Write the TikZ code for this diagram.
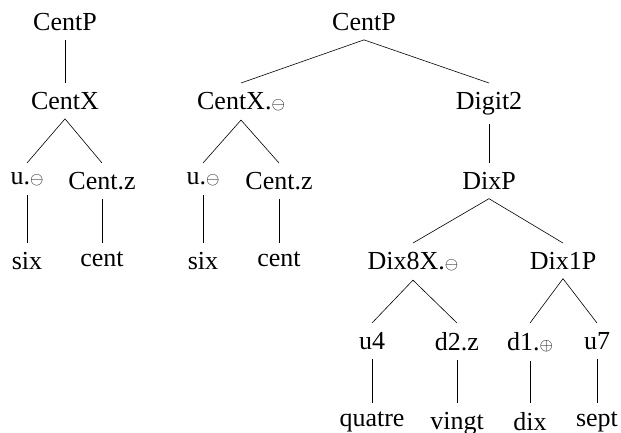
\documentclass[tikz,border=0pt]{standalone}
\usepackage{fontspec}
\setmainfont{Liberation Serif}
\newcommand{\om}{\ensuremath{\scriptstyle\ominus}}
\newcommand{\op}{\ensuremath{\scriptstyle\oplus}}
\begin{document}
\begin{tikzpicture}[x=1bp,y=-1bp,
  tn/.style={anchor=north,inner sep=9bp,font=\fontsize{26bp}{30bp}\selectfont},
  edge/.style={draw=black,line width=0.6bp}]
\useasboundingbox (0,0) rectangle (621,432);
% left tree
\node[tn] (a1) at (65,4) {CentP};
\node[tn] (a2) at (65,83) {CentX};
\node[tn] (a3) at (27,163) {u.\om};
\node[tn] (a4) at (102,163) {Cent.z};
\node[tn] (a5) at (27,243) {six};
\node[tn] (a6) at (102,243) {cent};
\draw[edge] (a1.south) -- (a2.north);
\draw[edge] (a2.south) -- (a3.north);
\draw[edge] (a2.south) -- (a4.north);
\draw[edge] (a3.south) -- (a5.north);
\draw[edge] (a4.south) -- (a6.north);
% right tree
\node[tn] (b1) at (364,4) {CentP};
\node[tn] (b2) at (241,83) {CentX.\om};
\node[tn] (b3) at (489,83) {Digit2};
\node[tn] (b4) at (203,163) {u.\om};
\node[tn] (b5) at (279,163) {Cent.z};
\node[tn] (b6) at (203,243) {six};
\node[tn] (b7) at (279,243) {cent};
\node[tn] (b8) at (489,163) {DixP};
\node[tn] (b9) at (413,243) {Dix8X.\om};
\node[tn] (b10) at (563,243) {Dix1P};
\node[tn] (b11) at (372,323) {u4};
\node[tn] (b12) at (457,323) {d2.z};
\node[tn] (b13) at (530,323) {d1.\op};
\node[tn] (b14) at (597,323) {u7};
\node[tn] (b15) at (372,403) {quatre};
\node[tn] (b16) at (457,403) {vingt};
\node[tn] (b17) at (530,403) {dix};
\node[tn] (b18) at (597,403) {sept};
\draw[edge] (b1.south) -- (b2.north);
\draw[edge] (b1.south) -- (b3.north);
\draw[edge] (b2.south) -- (b4.north);
\draw[edge] (b2.south) -- (b5.north);
\draw[edge] (b4.south) -- (b6.north);
\draw[edge] (b5.south) -- (b7.north);
\draw[edge] (b3.south) -- (b8.north);
\draw[edge] (b8.south) -- (b9.north);
\draw[edge] (b8.south) -- (b10.north);
\draw[edge] (b9.south) -- (b11.north);
\draw[edge] (b9.south) -- (b12.north);
\draw[edge] (b10.south) -- (b13.north);
\draw[edge] (b10.south) -- (b14.north);
\draw[edge] (b11.south) -- (b15.north);
\draw[edge] (b12.south) -- (b16.north);
\draw[edge] (b13.south) -- (b17.north);
\draw[edge] (b14.south) -- (b18.north);
\end{tikzpicture}
\end{document}
